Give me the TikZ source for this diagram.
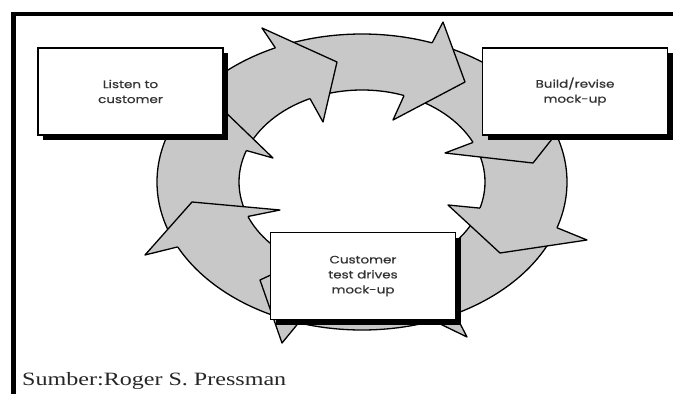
\documentclass[tikz,border=0pt]{standalone}
\usepackage{fontspec}
\setmainfont{Liberation Serif}
\newfontfamily\boxfont[FakeStretch=1.25,FakeBold=0.6]{Poppins}
\newfontfamily\capfont[FakeStretch=1.28]{Liberation Serif}
\usetikzlibrary{shadows}
\definecolor{ringgray}{HTML}{C8C8C8}
\definecolor{inkgray}{HTML}{333333}

\begin{document}
\begin{tikzpicture}[x=1pt,y=-1pt,
  ring/.style={fill=ringgray},
  rim/.style={draw=black,line width=1.3pt,line join=round},
  stage/.style={draw,line width=1.4pt,fill=white,minimum width=185pt,minimum height=87pt,
    align=center,inner sep=0pt,text=inkgray,font=\boxfont\fontsize{10.8}{15}\selectfont,
    drop shadow={shadow xshift=5pt,shadow yshift=-5pt,fill=black,opacity=1}}]
\useasboundingbox (0,0) rectangle (673,394);
% frame
\draw[line width=4.5pt] (13.5,394) -- (13.5,14) -- (673,14);
% ring
\fill[ring,even odd rule] (362,182) ellipse [x radius=205pt,y radius=148pt]
  (362,182) ellipse [x radius=123pt,y radius=92pt];
\draw[rim] (362,182) ellipse [x radius=205pt,y radius=148pt]
  (362,182) ellipse [x radius=123pt,y radius=92pt];
% arrow heads: outer angle / inner angle / outer barb / tip / inner barb
\foreach \ao/\ai/\bo/\tp/\bi in {
  115/115/{(262,28)}/{(337,62)}/{(323,122)},
  70/70/{(443,22)}/{(465,82)}/{(393,120)},
  25/25.5/{(575,110)}/{(533,163)}/{(445,153)},
  -18/-16.5/{(587,240)}/{(500,253)}/{(448,205)},
  -63/-63/{(467,337)}/{(397,303)}/{(400,240)},
  -108/-108/{(282,343)}/{(260,280)}/{(335,245)},
  -154/-158/{(145,255)}/{(192,202)}/{(280,210)},
  160/160/{(140,125)}/{(218,105)}/{(273,158)}}
{
  \fill[ring] ({362+205*cos(\ao)},{182-148*sin(\ao)}) -- \bo -- \tp -- \bi
    -- ({362+123*cos(\ai)},{182-92*sin(\ai)}) -- cycle;
  \draw[rim] ({362+205*cos(\ao)},{182-148*sin(\ao)}) -- \bo -- \tp -- \bi
    -- ({362+123*cos(\ai)},{182-92*sin(\ai)});
}
% stages
\node[stage] (listen) at (130.5,91.5) {Listen to\\customer};
\node[stage] (build) at (575,91.5) {Build/revise\\mock-up};
\node[stage] (test) at (363,276) {Customer\\test drives\\mock-up};
% source
\node[anchor=base west,inner sep=0pt,text=black!85,font=\capfont\fontsize{18.8}{20}\selectfont]
  (src) at (22,385) {Sumber:Roger S. Pressman};
\end{tikzpicture}
\end{document}
